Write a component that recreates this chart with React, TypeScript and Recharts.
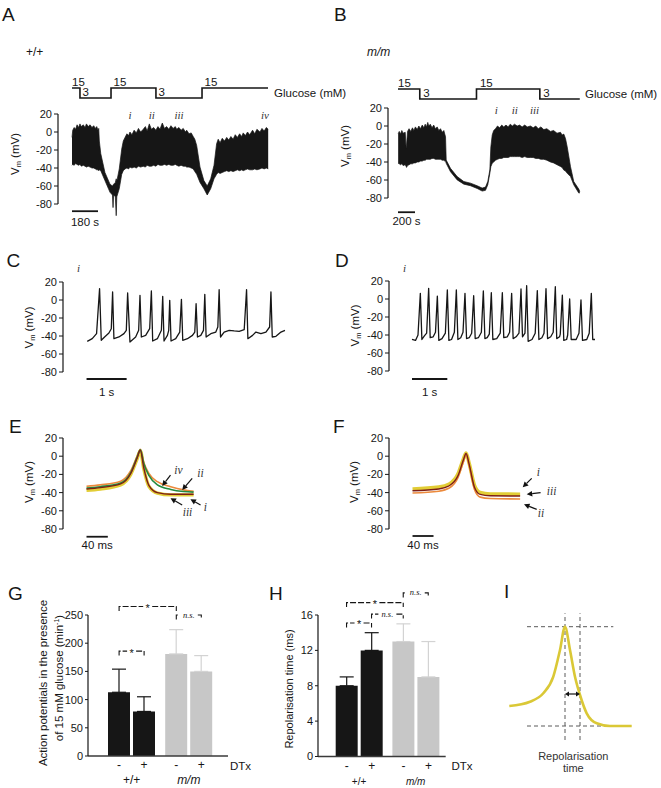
import React from 'react';
import {
  LineChart, Line, AreaChart, Area, BarChart, Bar, ErrorBar, Cell, LabelList,
  XAxis, YAxis, ReferenceLine, ReferenceDot,
} from 'recharts';

const SANS = '"Liberation Sans", Arial, Helvetica, sans-serif';
const SERIF = '"Liberation Serif", "Times New Roman", serif';
const INK = '#161616';
const GREY_BAR = '#c7c7c7';
const GREY_ERR = '#d3d3d3';
const C_I = '#e2cd36';
const C_II = '#ec8a3c';
const C_III = '#7d1e16';
const C_IV = '#238a3e';

// ---------------- Panel A (+/+) : membrane potential envelope, time in s ----------------
const aTime = [0, 5, 15, 25, 35, 45, 55, 65, 78, 90, 100, 112, 125, 138, 150, 162, 171, 180, 185, 189, 199, 228, 263, 280, 284, 288, 300, 306, 310, 327, 344, 355, 367, 380, 392, 401, 415, 430, 445, 460, 475, 493, 508, 520, 535, 550, 565, 580, 595, 609, 625, 640, 655, 670, 685, 700, 715, 725, 740, 755, 770, 785, 794, 810, 825, 839, 850, 863, 886, 913, 936, 960, 983, 1001, 1012, 1025, 1040, 1055, 1071, 1085, 1100, 1115, 1130, 1145, 1160, 1175, 1185, 1200, 1215, 1230, 1250, 1265, 1280, 1301, 1315, 1330, 1345, 1358];
const aLow = [-37, -36, -37, -35, -36, -37, -36, -38, -37, -38, -39, -38, -39, -40, -40, -41, -42, -42, -43, -42, -43, -54, -67, -70, -84, -70, -72, -93, -72, -63, -47, -43, -41, -40, -41, -39, -40, -39, -40, -38, -39, -38, -39, -37, -38, -38, -37, -38, -36, -37, -37, -36, -37, -36, -37, -37, -36, -37, -38, -37, -38, -38, -39, -39, -40, -41, -44, -47, -56, -63, -70, -63, -52, -47, -45, -46, -45, -44, -43, -44, -43, -44, -43, -42, -43, -42, -43, -42, -41, -42, -42, -41, -42, -41, -40, -41, -40, -41];
const aHigh = [-6, 2, 5, 3, 8, 5, 9, 6, 8, 5, 9, 6, 8, 5, 7, 4, 6, 2, 4, -10, -24, -45, -58, -60, -59, -58, -56, -52, -55, -41, -19, -10, -6, -2, -4, 0, -3, 2, -1, 4, 0, 3, 6, 1, 9, 3, 5, 2, 6, 3, 10, 4, 6, 3, 7, 4, 6, 3, 5, 2, 4, 0, 2, -2, -1, -5, -8, -15, -39, -54, -60, -52, -37, -13, -8, -12, -7, -10, -6, -9, -5, -8, -3, -6, -2, -5, -1, -4, 0, -3, 2, -2, 3, 0, 4, 1, 5, 3];
const aGlucTime = [0, 55, 270, 581, 900, 1357];
const aGluc = [15, 3, 15, 3, 15, 15];
const aDtx = [[401, 581], [1183, 1357]];
const aMarkTime = [401, 552, 741, 1336];
const aMarkText = ['i', 'ii', 'iii', 'iv'];

// ---------------- Panel B (m/m) ----------------
const bTime = [2, 15, 29, 45, 60, 85, 96, 100, 112, 130, 150, 170, 186, 205, 225, 245, 265, 285, 304, 320, 335, 350, 362, 380, 400, 420, 440, 461, 480, 500, 520, 539, 550, 559, 567, 617, 696, 774, 853, 931, 990, 1029, 1056, 1080, 1092, 1108, 1125, 1147, 1170, 1195, 1220, 1244, 1270, 1295, 1320, 1345, 1370, 1402, 1430, 1460, 1490, 1520, 1558, 1590, 1620, 1650, 1680, 1715, 1750, 1793, 1830, 1870, 1911, 1930, 1950, 1970, 1990, 2029, 2067, 2126, 2138];
const bLow = [-41.5, -42, -43, -42, -44, -43, -45, -46, -44, -43, -42, -42, -41, -41, -40, -40, -39, -39, -38, -38, -37, -37, -37, -37, -36, -36, -37, -37, -37, -37, -38, -38, -39, -39, -41.5, -50.7, -59.9, -64.6, -66.4, -69.4, -72.3, -71.5, -65.3, -52.5, -45.2, -41.5, -40, -38, -37, -36, -36, -35, -35, -35, -34, -34, -34, -34, -34, -35, -34, -35, -35, -35, -36, -36, -37, -37, -38, -40, -41, -43, -45, -46, -49, -50, -52.5, -56.2, -65.3, -74.5, -74.3];
const bHigh = [-8.6, -6, -9, -5, -8, -7, -25, -22, -6, -3, -6, -2, -5, -1, -4, 0, -3, 1, -2, 2, -1, 4, 0, 2, -2, 1, -3, -1, -5, -3, -7, -5, -9, -12, -37.9, -47, -56.2, -61.7, -63.5, -66.4, -69, -67.9, -61.7, -48.9, -23.2, -10, -5, -3, 0, -2, 1, -1, 1, -1, 2, 0, 2, 0, 1, -1, 1, -1, 0, -2, 0, -3, -1, -4, -3, -6, -5, -8, -7, -10, -9, -14, -23.2, -45.2, -61.7, -70.1, -72.7];
const bGlucTime = [0, 256, 923, 1668, 2138];
const bGluc = [15, 3, 15, 3, 3];
const bDtx = [[1211, 1407]];
const bMarkTime = [1155, 1374, 1605];
const bMarkText = ['i', 'ii', 'iii'];

// ---------------- Panel C / D : spike trains (t in s, Vm in mV) ----------------
const cTrace = [[0.017,-45.9],[0.142,-43],[0.25,-37.4],[0.325,12.6],[0.367,-44.8],[0.45,-41.1],[0.558,-36.7],[0.617,-31.9],[0.65,8.9],[0.683,-43],[0.808,-41.1],[0.933,-37.4],[0.992,-33.7],[1.025,7.8],[1.083,-46.7],[1.225,-41.1],[1.3,-33.7],[1.333,5.2],[1.367,-41.1],[1.475,-39.3],[1.575,-31.9],[1.617,10],[1.65,-45.6],[1.767,-43],[1.867,-33.7],[1.9,4.1],[1.933,-45.6],[2.017,-39.3],[2.05,-33.7],[2.075,-0.4],[2.108,-45.6],[2.225,-43],[2.325,-35.6],[2.367,0.7],[2.4,-44.8],[2.517,-43],[2.642,-39.3],[2.7,-35.6],[2.733,-4.1],[2.767,-41.1],[2.85,-39.3],[2.917,-33.7],[2.95,6.3],[2.983,-41.1],[3.1,-37.4],[3.225,-35.6],[3.275,-30],[3.308,11.5],[3.342,-41.1],[3.433,-35.6],[3.558,-33.7],[3.683,-34.4],[3.808,-34.8],[3.933,-33],[3.992,11.5],[4.025,-43],[4.142,-39.3],[4.225,-35.6],[4.35,-37.4],[4.475,-35.6],[4.567,-30],[4.6,8.9],[4.633,-41.1],[4.725,-40.4],[4.85,-35.6],[4.95,-33.7]];
const dTrace = [[0,-44.8],[0.1,-46],[0.17,-40],[0.236,6.3],[0.28,-45],[0.35,-41],[0.415,-38],[0.472,11.9],[0.515,-43],[0.6,-42],[0.665,-37],[0.718,3.3],[0.76,-46],[0.85,-44],[0.945,-38],[1.001,10],[1.045,-46],[1.12,-45],[1.2,-37],[1.256,10],[1.3,-45],[1.38,-43],[1.445,-37],[1.501,6.3],[1.545,-44],[1.62,-43],[1.69,-38],[1.747,3.7],[1.79,-44],[1.88,-43],[1.965,-37],[2.021,8.9],[2.065,-44],[2.13,-43],[2.19,-39],[2.247,7],[2.29,-45],[2.4,-44],[2.5,-38],[2.559,7],[2.6,-43],[2.7,-42],[2.765,-37],[2.823,6.3],[2.865,-44],[2.95,-42],[3.03,-38],[3.088,11.1],[3.13,-42],[3.2,-38],[3.248,14.8],[3.29,-47],[3.4,-45],[3.49,-38],[3.55,9.3],[3.595,-45],[3.68,-43],[3.74,-38],[3.796,11.5],[3.84,-44],[3.93,-42],[4.0,-37],[4.06,13.7],[4.1,-44],[4.18,-42],[4.2,-39],[4.259,4.4],[4.3,-46],[4.38,-45],[4.41,-40],[4.466,0],[4.51,-45],[4.65,-45],[4.73,-38],[4.787,-1.1],[4.83,-46],[4.95,-45],[5.02,-38],[5.08,6.3],[5.12,-45],[5.184,-45]];

// ---------------- Panel E / F : averaged action potentials (t in ms) ----------------
const eTime = [0, 26, 64, 83, 95, 101, 107.5, 117, 133, 158, 182, 201];
const eI = [-37.5, -36, -31.5, -20, -3, 6, -14, -33, -40.5, -42.5, -42.5, -42.5];
const eII = [-33, -31.5, -27.5, -16, 0, 7.5, -7, -19, -28, -33.5, -37, -38.5];
const eIII = [-36, -34.5, -30.5, -19, -2, 6.5, -13, -32, -40, -41.8, -41.8, -41.8];
const eIV = [-35, -33.5, -29.5, -18, -1, 7, -8, -21, -31.5, -36.5, -38.8, -39.5];
const eArrows = [
  { label: 'iv', tail: [157.6, -20.7], tip: [142, -32.7], text: [172.6, -15.2] },
  { label: 'ii', tail: [198.3, -24.3], tip: [179.5, -37.1], text: [214, -19] },
  { label: 'iii', tail: [179.5, -53.6], tip: [157.6, -46.3], text: [189.5, -61.3] },
  { label: 'i', tail: [214, -53.6], tip: [195, -47.4], text: [223, -55.8] },
];
const fTime = [0, 50, 70, 87, 97, 102, 108, 118, 129, 148, 205];
const fI = [-36, -34, -30.5, -19, -3, 3.5, -8, -32, -40, -41.5, -41.8];
const fIII = [-38, -36, -32.5, -21, -4, 3, -9, -34, -42, -43.5, -43.8];
const fII = [-40.5, -38.5, -35, -23, -6, 2, -10.5, -36.5, -45, -46.5, -47];
const fArrows = [
  { label: 'i', tail: [227, -24.3], tip: [210, -34.2], text: [239.6, -17] },
  { label: 'iii', tail: [244, -40.1], tip: [217.5, -41.9], text: [265, -38.2] },
  { label: 'ii', tail: [236.6, -58.4], tip: [212.4, -52.9], text: [244.8, -62.1] },
];

// ---------------- Panel G / H : bar charts ----------------
const genoKeys = ['wt', 'mm'];
const genoLabels = ['+/+', 'm/m'];
const gMeanNoDTx = [113, 181];
const gSdNoDTx = [41, 43];
const gMeanDTx = [79, 150];
const gSdDTx = [26, 28];
const gBrackets = [
  { a: 'wt', sa: -1, b: 'mm', sb: -1, y: 265, text: '*' },
  { a: 'mm', sa: -1, b: 'mm', sb: 1, y: 250, text: 'n.s.' },
  { a: 'wt', sa: -1, b: 'wt', sb: 1, y: 186, text: '*' },
];
const hMeanNoDTx = [8, 13];
const hSdNoDTx = [1, 2];
const hMeanDTx = [12, 9];
const hSdDTx = [2, 4];
const hBrackets = [
  { a: 'mm', sa: -1, b: 'mm', sb: 1, y: 18.5, text: 'n.s.' },
  { a: 'wt', sa: -1, b: 'mm', sb: -1, y: 17.4, text: '*' },
  { a: 'wt', sa: 1, b: 'mm', sb: -1, y: 16.1, text: 'n.s.' },
  { a: 'wt', sa: -1, b: 'wt', sb: 1, y: 15.1, text: '*' },
];

// ---------------- Panel I : schematic action potential ----------------
const iTime = [4.3, 25, 38.3, 48.3, 55, 60, 65, 70, 75, 81.7, 91.7, 105, 126.7];
const iVm = [39, 43.3, 51.7, 68.3, 95, 118.3, 95, 68.3, 50, 31.7, 21.7, 19, 19];
const iPeakTime = 60;
const iRepolTime = 75;
const iBaseline = 19;
const iArrowLevel = 51;

// ---------------- derived tables ----------------
const aRows = aTime.map((t, k) => ({ t, r: [aLow[k], aHigh[k]] }));
const bRows = bTime.map((t, k) => ({ t, r: [bLow[k], bHigh[k]] }));
const aGlucRows = aGlucTime.map((t, k) => ({ t, g: aGluc[k] }));
const bGlucRows = bGlucTime.map((t, k) => ({ t, g: bGluc[k] }));
const cRows = cTrace.map(([t, v]) => ({ t, v }));
const dRows = dTrace.map(([t, v]) => ({ t, v }));
const eRows = eTime.map((t, k) => ({ t, i: eI[k], ii: eII[k], iii: eIII[k], iv: eIV[k] }));
const fRows = fTime.map((t, k) => ({ t, i: fI[k], ii: fII[k], iii: fIII[k] }));
const iRows = iTime.map((t, k) => ({ t, v: iVm[k] }));
const gRows = genoKeys.map((geno, k) => ({ geno, noDTx: gMeanNoDTx[k], dtx: gMeanDTx[k], sdNo: gSdNoDTx[k], sdDtx: gSdDTx[k] }));
const hRows = genoKeys.map((geno, k) => ({ geno, noDTx: hMeanNoDTx[k], dtx: hMeanDTx[k], sdNo: hSdNoDTx[k], sdDtx: hSdDTx[k] }));

// ---------------- helpers ----------------
const MV_TICKS = [-80, -60, -40, -20, 0, 20];
const YW = 34;
const BAR_SIZE = 22;
const BAR_GAP = 3;
const BAR_OFF = (BAR_SIZE + BAR_GAP) / 2;

function geom(box: any, pad: any) {
  const width = box.x1 - box.x0 + pad.l + pad.r;
  const height = box.y1 - box.y0 + pad.t + pad.b;
  const style: any = { position: 'absolute', left: box.x0 - pad.l, top: box.y0 - pad.t, width, height };
  return { width, height, style };
}

const mvYAxis = (yDomain: number[]) => (
  <YAxis type="number" domain={yDomain} ticks={MV_TICKS} interval={0} width={YW} axisLine={false}
    tickLine={{ stroke: INK, strokeWidth: 1 }} tickSize={4} tickMargin={2}
    tick={{ fontSize: 11, fill: INK, fontFamily: SANS }} />
);
const mvAxisLine = (x: number) => (
  <ReferenceLine segment={[{ x, y: -80 }, { x, y: 20 }]} stroke={INK} strokeWidth={1.2} ifOverflow="visible" />
);

const scaleBar = (label: string, dy: number) => (p: any) => (
  <g>
    <line x1={p.x1} y1={p.y1} x2={p.x2} y2={p.y2} stroke={INK} strokeWidth={1.8} />
    <text x={(p.x1 + p.x2) / 2} y={p.y1 + dy} textAnchor="middle" fontSize={11.5} fontFamily={SANS} fill={INK}>{label}</text>
  </g>
);

const markText = (s: string, size = 11) => (p: any) => (
  <text x={p.cx} y={p.cy} textAnchor="middle" dominantBaseline="central" fontFamily={SERIF}
    fontStyle="italic" fontSize={size} fill="#333">{s}</text>
);

const levelText = (s: string, dx: number) => (p: any) => (
  <text x={p.cx + dx} y={p.cy - 2.5} fontSize={11.5} fontFamily={SANS} fill={INK}>{s}</text>
);

const dtxShape = (p: any) => (
  <g>
    <line x1={p.x1} y1={p.y1} x2={p.x2} y2={p.y2} stroke={INK} strokeWidth={1.8} />
    <text x={p.x1} y={p.y1 - 3.5} fontSize={11.5} fontFamily={SANS} fill={INK}>20 nM DTx</text>
  </g>
);

const arrowShape = (p: any) => {
  const { x1, y1, x2, y2 } = p;
  const dx = x2 - x1, dy = y2 - y1;
  const len = Math.hypot(dx, dy) || 1;
  const ux = dx / len, uy = dy / len;
  const hl = 5.5, hw = 2.8;
  const bx = x2 - ux * hl, by = y2 - uy * hl;
  return (
    <g>
      <line x1={x1} y1={y1} x2={bx} y2={by} stroke="#111" strokeWidth={1.2} />
      <polygon points={`${x2},${y2} ${bx - uy * hw},${by + ux * hw} ${bx + uy * hw},${by - ux * hw}`} fill="#111" />
    </g>
  );
};

const doubleArrow = (p: any) => {
  const { x1, y1, x2 } = p;
  const hl = 4, hw = 2.6;
  return (
    <g>
      <line x1={x1 + hl} y1={y1} x2={x2 - hl} y2={y1} stroke="#111" strokeWidth={1.2} />
      <polygon points={`${x1},${y1} ${x1 + hl},${y1 - hw} ${x1 + hl},${y1 + hw}`} fill="#111" />
      <polygon points={`${x2},${y1} ${x2 - hl},${y1 - hw} ${x2 - hl},${y1 + hw}`} fill="#111" />
    </g>
  );
};

const bracketShape = (offA: number, offB: number, text: string) => (p: any) => {
  const xa = p.x1 + offA, xb = p.x2 + offB, y = p.y1;
  const mid = (xa + xb) / 2;
  const ns = text !== '*';
  const gap = ns ? 9 : 4.5;
  return (
    <g>
      <path d={`M${xa},${y + 4.5}V${y}H${mid - gap}M${mid + gap},${y}H${xb}V${y + 4.5}`} fill="none"
        stroke={INK} strokeWidth={1.1} strokeDasharray="6 2" />
      <text x={mid} y={ns ? y + 2.5 : y + 5.5} textAnchor="middle" fontFamily={ns ? SERIF : SANS}
        fontStyle={ns ? 'italic' : 'normal'} fontSize={ns ? 8.5 : 11} fill={INK}>{text}</text>
    </g>
  );
};

const arrowSet = (arrows: any[]) => arrows.flatMap((a, k) => [
  <ReferenceLine key={`al${k}`} segment={[{ x: a.tail[0], y: a.tail[1] }, { x: a.tip[0], y: a.tip[1] }]}
    ifOverflow="visible" shape={arrowShape} />,
  <ReferenceDot key={`at${k}`} x={a.text[0]} y={a.text[1]} r={0} ifOverflow="visible" shape={markText(a.label, 11.5)} />,
]);

const rowOf = (d: any) => (d && d.payload && d.payload.geno ? d.payload : d);

// ---------------- panels ----------------
const TRACE_Y = [-110, 20];

function TraceEnvelope({ box, pad, xDomain, rows, markTime, markText: mt, markY, bar }: any) {
  const g = geom(box, pad);
  return (
    <div style={g.style}>
      <AreaChart width={g.width} height={g.height} data={rows}
        margin={{ top: pad.t, right: pad.r, bottom: pad.b, left: pad.l - YW }}>
        <XAxis type="number" dataKey="t" domain={xDomain} hide />
        {mvYAxis(TRACE_Y)}
        {mvAxisLine(xDomain[0])}
        <Area type="linear" dataKey="r" stroke={INK} strokeWidth={0.7} fill={INK} fillOpacity={1}
          strokeLinejoin="round" isAnimationActive={false} dot={false} activeDot={false} />
        {markTime.map((t: number, k: number) => (
          <ReferenceDot key={`m${k}`} x={t} y={markY} r={0} ifOverflow="visible" shape={markText(mt[k], 11)} />
        ))}
        <ReferenceLine segment={[{ x: 0, y: bar.y }, { x: bar.len, y: bar.y }]} ifOverflow="visible"
          shape={scaleBar(bar.label, bar.dy)} />
      </AreaChart>
    </div>
  );
}

function Glucose({ box, xDomain, rows, dtx, dx }: any) {
  const pad = { l: 10, r: 12, t: 22, b: 6 };
  const g = geom(box, pad);
  return (
    <div style={g.style}>
      <LineChart width={g.width} height={g.height} data={rows}
        margin={{ top: pad.t, right: pad.r, bottom: pad.b, left: pad.l }}>
        <XAxis type="number" dataKey="t" domain={xDomain} hide />
        <YAxis yAxisId="g" type="number" domain={[3, 31.8]} hide />
        <YAxis yAxisId="d" type="number" domain={[0, 1]} hide />
        <Line yAxisId="g" type="stepAfter" dataKey="g" stroke={INK} strokeWidth={1.6} dot={false}
          activeDot={false} isAnimationActive={false} />
        {rows.slice(0, -1).map((r: any, k: number) => (
          <ReferenceDot key={`lv${k}`} yAxisId="g" x={r.t} y={r.g} r={0} ifOverflow="visible"
            shape={levelText(String(r.g), k === 0 ? 0 : dx)} />
        ))}
        {dtx.map((d: number[], k: number) => (
          <ReferenceLine key={`dtx${k}`} yAxisId="d" segment={[{ x: d[0], y: 1 }, { x: d[1], y: 1 }]}
            ifOverflow="visible" shape={dtxShape} />
        ))}
      </LineChart>
    </div>
  );
}

function SpikeTrain({ box, pad, xDomain, rows, bar }: any) {
  const g = geom(box, pad);
  const yD = [-90, 20];
  return (
    <div style={g.style}>
      <LineChart width={g.width} height={g.height} data={rows}
        margin={{ top: pad.t, right: pad.r, bottom: pad.b, left: pad.l - YW }}>
        <XAxis type="number" dataKey="t" domain={xDomain} hide />
        {mvYAxis(yD)}
        {mvAxisLine(xDomain[0])}
        <Line type="linear" dataKey="v" stroke={INK} strokeWidth={1.3} strokeLinejoin="round" dot={false}
          activeDot={false} isAnimationActive={false} />
        <ReferenceLine segment={[{ x: 0, y: bar.y }, { x: 1, y: bar.y }]} ifOverflow="visible"
          shape={scaleBar('1 s', bar.dy)} />
      </LineChart>
    </div>
  );
}

function ApOverlay({ box, pad, xDomain, rows, series, arrows, bar }: any) {
  const g = geom(box, pad);
  const yD = [-90, 20];
  return (
    <div style={g.style}>
      <LineChart width={g.width} height={g.height} data={rows}
        margin={{ top: pad.t, right: pad.r, bottom: pad.b, left: pad.l - YW }}>
        <XAxis type="number" dataKey="t" domain={xDomain} hide />
        {mvYAxis(yD)}
        {mvAxisLine(xDomain[0])}
        {series.map((s: any) => (
          <Line key={s.key} type="monotone" dataKey={s.key} stroke={s.color} strokeWidth={s.w} dot={false}
            activeDot={false} isAnimationActive={false} />
        ))}
        {arrowSet(arrows)}
        <ReferenceLine segment={[{ x: 0, y: bar.y }, { x: 40, y: bar.y }]} ifOverflow="visible"
          shape={scaleBar('40 ms', bar.dy)} />
      </LineChart>
    </div>
  );
}

function BarPanel({ box, pad, rows, yDomain, ticks, xPad, brackets, geno, signDy }: any) {
  const g = geom(box, pad);
  const axisBottomLocal = pad.t + (box.y1 - box.y0);
  const signLabel = (s: string) => (p: any) => {
    const vb = p.viewBox || p;
    const x = (vb.x ?? p.x) + (vb.width ?? p.width) / 2;
    const y = (vb.y ?? p.y) + (vb.height ?? p.height) + signDy;
    return <text x={x} y={y} textAnchor="middle" fontSize={12} fontFamily={SANS} fill={INK}>{s}</text>;
  };
  const genoTick = (p: any) => {
    const k = genoKeys.indexOf(p.payload.value);
    return (
      <text x={p.x} y={axisBottomLocal + geno.dy} textAnchor="middle" fontFamily={SANS} fontSize={geno.size}
        fontStyle={k === 1 ? 'italic' : 'normal'} fill={INK}>{genoLabels[k]}</text>
    );
  };
  const errDark = (key: string) => (d: any) => { const r = rowOf(d); return r.geno === 'wt' ? [0, r[key]] : null; };
  const errLight = (key: string) => (d: any) => { const r = rowOf(d); return r.geno === 'mm' ? [0, r[key]] : null; };
  return (
    <div style={g.style}>
      <BarChart width={g.width} height={g.height} data={rows} barGap={BAR_GAP}
        margin={{ top: pad.t, right: pad.r, bottom: pad.b - 30, left: pad.l - YW }}>
        <XAxis dataKey="geno" padding={xPad} tickLine={false} axisLine={{ stroke: '#3a3a3a', strokeWidth: 1.5 }}
          tick={genoTick} height={30} interval={0} />
        <YAxis type="number" domain={yDomain} ticks={ticks} interval={0} width={YW} tickSize={3} tickMargin={2}
          axisLine={{ stroke: INK, strokeWidth: 1.2 }} tickLine={{ stroke: INK }}
          tick={{ fontSize: 11, fill: INK, fontFamily: SANS }} />
        <Bar dataKey="noDTx" barSize={BAR_SIZE} isAnimationActive={false}>
          {rows.map((r: any) => <Cell key={`c1${r.geno}`} fill={r.geno === 'wt' ? INK : GREY_BAR} />)}
          <ErrorBar dataKey={errDark('sdNo')} width={7} stroke={INK} strokeWidth={1.2} direction="y" />
          <ErrorBar dataKey={errLight('sdNo')} width={7} stroke={GREY_ERR} strokeWidth={1.2} direction="y" />
          <LabelList dataKey="noDTx" content={signLabel('-')} />
        </Bar>
        <Bar dataKey="dtx" barSize={BAR_SIZE} isAnimationActive={false}>
          {rows.map((r: any) => <Cell key={`c2${r.geno}`} fill={r.geno === 'wt' ? INK : GREY_BAR} />)}
          <ErrorBar dataKey={errDark('sdDtx')} width={7} stroke={INK} strokeWidth={1.2} direction="y" />
          <ErrorBar dataKey={errLight('sdDtx')} width={7} stroke={GREY_ERR} strokeWidth={1.2} direction="y" />
          <LabelList dataKey="dtx" content={signLabel('+')} />
        </Bar>
        {brackets.map((b: any, k: number) => (
          <ReferenceLine key={`br${k}`} segment={[{ x: b.a, y: b.y }, { x: b.b, y: b.y }]} ifOverflow="visible"
            shape={bracketShape(b.sa * BAR_OFF, b.sb * BAR_OFF, b.text)} />
        ))}
      </BarChart>
    </div>
  );
}

function Schematic() {
  const box = { x0: 505, y0: 610, x1: 640, y1: 745 };
  const pad = { l: 5, r: 5, t: 5, b: 5 };
  const g = geom(box, pad);
  const peak = Math.max(...iVm);
  const dash = { stroke: '#5a5a5a', strokeWidth: 1, strokeDasharray: '4 3', ifOverflow: 'visible' as any };
  return (
    <div style={g.style}>
      <LineChart width={g.width} height={g.height} data={iRows}
        margin={{ top: pad.t, right: pad.r, bottom: pad.b, left: pad.l }}>
        <XAxis type="number" dataKey="t" domain={[0, 135]} hide />
        <YAxis type="number" domain={[0, 135]} hide />
        <ReferenceLine segment={[{ x: 22, y: peak }, { x: 108.3, y: peak }]} {...dash} />
        <ReferenceLine segment={[{ x: 22, y: iBaseline }, { x: 108.3, y: iBaseline }]} {...dash} />
        <ReferenceLine segment={[{ x: iPeakTime, y: 5 }, { x: iPeakTime, y: 131.7 }]} {...dash} />
        <ReferenceLine segment={[{ x: iRepolTime, y: 5 }, { x: iRepolTime, y: 131.7 }]} {...dash} />
        <Line type="monotone" dataKey="v" stroke="#dac836" strokeWidth={2.6} dot={false} activeDot={false}
          isAnimationActive={false} />
        <ReferenceLine segment={[{ x: iPeakTime, y: iArrowLevel }, { x: iRepolTime, y: iArrowLevel }]}
          ifOverflow="visible" shape={doubleArrow} />
      </LineChart>
    </div>
  );
}

const VmLabel = ({ x, y }: { x: number; y: number }) => (
  <text transform={`translate(${x},${y}) rotate(-90)`} textAnchor="middle" fontFamily={SANS} fontSize={11.5} fill={INK}>
    V<tspan fontSize={7.5} dy={2}>m</tspan><tspan dy={-2}> (mV)</tspan>
  </text>
);

const Letter = ({ x, y, s }: { x: number; y: number; s: string }) => (
  <text x={x} y={y} fontFamily={SANS} fontSize={19} fill={INK}>{s}</text>
);

export default function App() {
  return (
    <div style={{ position: 'absolute', left: 0, top: 0, width: 661, height: 788, background: '#fff', overflow: 'hidden' }}>
      <Glucose box={{ x0: 58, y0: 74, x1: 290, y1: 98 }} xDomain={[-97, 1509]} rows={aGlucRows} dtx={aDtx} dx={2.5} />
      <TraceEnvelope box={{ x0: 58, y0: 114, x1: 290, y1: 231 }} pad={{ l: 58, r: 10, t: 12, b: 8 }}
        xDomain={[-97, 1509]} rows={aRows} markTime={aMarkTime} markText={aMarkText} markY={18.9}
        bar={{ len: 180, y: -88, label: '180 s', dy: 14.5 }} />

      <Glucose box={{ x0: 387.5, y0: 75.3, x1: 600, y1: 99.3 }} xDomain={[-117.6, 2381.5]} rows={bGlucRows} dtx={bDtx} dx={3.5} />
      <TraceEnvelope box={{ x0: 387.5, y0: 107.5, x1: 600, y1: 224.5 }} pad={{ l: 50, r: 10, t: 12, b: 8 }}
        xDomain={[-117.6, 2381.5]} rows={bRows} markTime={bMarkTime} markText={bMarkText} markY={17.6}
        bar={{ len: 200, y: -95.8, label: '200 s', dy: 13 }} />

      <SpikeTrain box={{ x0: 62.5, y0: 282, x1: 300, y1: 381 }} pad={{ l: 50, r: 10, t: 10, b: 20 }}
        xDomain={[-0.5875, 5.3375]} rows={cRows} bar={{ y: -87.8, dy: 16.5 }} />
      <SpikeTrain box={{ x0: 389, y0: 281, x1: 610, y1: 380 }} pad={{ l: 50, r: 10, t: 10, b: 20 }}
        xDomain={[-0.6516, 5.609]} rows={dRows} bar={{ y: -88.9, dy: 17 }} />

      <ApOverlay box={{ x0: 62.5, y0: 438, x1: 250, y1: 538.1 }} pad={{ l: 50, r: 10, t: 12, b: 16 }}
        xDomain={[-44.1, 307.7]} rows={eRows}
        series={[{ key: 'i', color: C_I, w: 3.4 }, { key: 'ii', color: C_II, w: 1.6 }, { key: 'iv', color: C_IV, w: 1.6 }, { key: 'iii', color: C_III, w: 1.4 }]}
        arrows={eArrows} bar={{ y: -88.5, dy: 12.5 }} />
      <ApOverlay box={{ x0: 389, y0: 438, x1: 570, y1: 538.1 }} pad={{ l: 50, r: 10, t: 12, b: 16 }}
        xDomain={[-44.8, 300]} rows={fRows}
        series={[{ key: 'i', color: C_I, w: 3.6 }, { key: 'ii', color: C_II, w: 1.6 }, { key: 'iii', color: C_III, w: 1.4 }]}
        arrows={fArrows} bar={{ y: -87.7, dy: 13 }} />

      <BarPanel box={{ x0: 88, y0: 615, x1: 228, y1: 756 }} pad={{ l: 34, r: 8, t: 22, b: 34 }} rows={gRows}
        yDomain={[0, 250]} ticks={[0, 50, 100, 150, 200, 250]} xPad={{ left: 15, right: 10.6 }}
        brackets={gBrackets} geno={{ dy: 28, size: 12 }} signDy={13} />
      <BarPanel box={{ x0: 318.3, y0: 615, x1: 446, y1: 756.5 }} pad={{ l: 34, r: 8, t: 30, b: 34 }} rows={hRows}
        yDomain={[0, 16]} ticks={[0, 4, 8, 12, 16]} xPad={{ left: 12.7, right: 1.6 }}
        brackets={hBrackets} geno={{ dy: 29, size: 10 }} signDy={14} />

      <Schematic />

      <svg width={661} height={788} style={{ position: 'absolute', left: 0, top: 0, pointerEvents: 'none' }}>
        <Letter x={2} y={20.7} s="A" />
        <Letter x={334} y={20.7} s="B" />
        <Letter x={6.5} y={266.5} s="C" />
        <Letter x={335} y={266.5} s="D" />
        <Letter x={9} y={433} s="E" />
        <Letter x={333} y={433} s="F" />
        <Letter x={8} y={600} s="G" />
        <Letter x={269} y={600} s="H" />
        <Letter x={504} y={598} s="I" />

        <text x={26} y={56} fontFamily={SANS} fontSize={12} fill={INK}>+/+</text>
        <text x={367} y={56} fontFamily={SANS} fontSize={12} fontStyle="italic" fill={INK}>m/m</text>
        <text x={274} y={97} fontFamily={SANS} fontSize={11.5} fill={INK}>Glucose (mM)</text>
        <text x={585} y={97.5} fontFamily={SANS} fontSize={11.5} fill={INK}>Glucose (mM)</text>

        <VmLabel x={19} y={154} />
        <VmLabel x={349} y={146} />
        <VmLabel x={32.5} y={327.5} />
        <VmLabel x={359} y={325.5} />
        <VmLabel x={32.5} y={482} />
        <VmLabel x={357.5} y={482} />

        <text x={77} y={272} fontFamily={SERIF} fontStyle="italic" fontSize={11} fill="#333">i</text>
        <text x={403} y={272} fontFamily={SERIF} fontStyle="italic" fontSize={11} fill="#333">i</text>

        <text transform="translate(46.5,683) rotate(-90)" textAnchor="middle" fontFamily={SANS} fontSize={11.5} fill={INK}>
          Action potentials in the presence
        </text>
        <text transform="translate(62.5,678) rotate(-90)" textAnchor="middle" fontFamily={SANS} fontSize={11.5} fill={INK}>
          of 15 mM glucose (min<tspan fontSize={7} dy={-4}>-1</tspan><tspan dy={4}>)</tspan>
        </text>
        <text x={230} y={769.5} fontFamily={SANS} fontSize={11.5} fill={INK}>DTx</text>

        <text transform="translate(293,689) rotate(-90)" textAnchor="middle" fontFamily={SANS} fontSize={11} fill={INK}>
          Repolarisation time (ms)
        </text>
        <text x={451.5} y={770} fontFamily={SANS} fontSize={11.5} fill={INK}>DTx</text>

        <text x={573.3} y={759.5} textAnchor="middle" fontFamily={SANS} fontSize={11} fill="#333">Repolarisation</text>
        <text x={573.3} y={772} textAnchor="middle" fontFamily={SANS} fontSize={11} fill="#333">time</text>
      </svg>
    </div>
  );
}
